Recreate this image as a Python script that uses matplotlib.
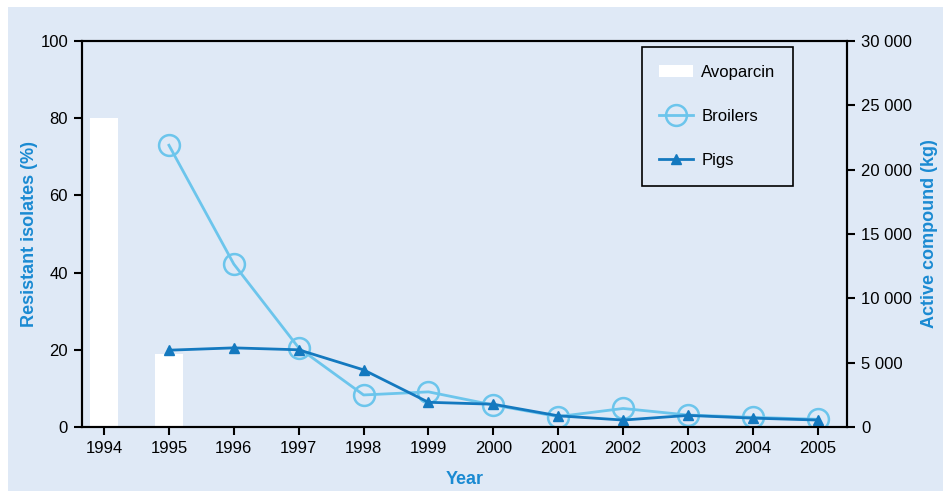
import numpy as np
import matplotlib
matplotlib.use("Agg")
import matplotlib.pyplot as plt
from matplotlib.patches import Rectangle, Patch
from matplotlib.lines import Line2D

plt.rcParams['font.family'] = ['Liberation Sans', 'DejaVu Sans']

# data
years = [1994, 1995, 1996, 1997, 1998, 1999, 2000, 2001, 2002, 2003, 2004, 2005]
avo_years = [1994, 1995]
avoparcin_kg = [24000, 5700]
broiler_years = years[1:]
broilers = [73, 42.2, 20.5, 8.3, 9.1, 5.7, 2.7, 4.8, 3.1, 2.5, 2.0]
pigs = [19.9, 20.5, 20.0, 14.8, 6.4, 5.9, 2.9, 1.8, 3.0, 2.3, 1.8]
left_ticks = [0, 20, 40, 60, 80, 100]
right_ticks = [0, 5000, 10000, 15000, 20000, 25000, 30000]
right_labels = ['0', '5 000', '10 000', '15 000', '20 000', '25 000', '30 000']

bg = '#dfe9f6'
light = '#6cc5ec'
dark = '#1479bf'
labcol = '#1a8ad2'

W, H = 943, 491
fig = plt.figure(figsize=(9.43, 4.91), dpi=100, facecolor='white')
fig.patches.append(Rectangle((8/W, 0), 1, 1 - 7/H, transform=fig.transFigure,
                             facecolor=bg, edgecolor='none', zorder=-10))

ax = fig.add_axes([82/W, 1 - 427/H, (847-82)/W, (427-41)/H])
ax2 = ax.twinx()
ax.set_zorder(ax2.get_zorder() + 1)
ax.patch.set_visible(False)
ax2.patch.set_visible(False)

# bars on the kg axis
ax2.bar(avo_years, avoparcin_kg, width=0.44, color='white', edgecolor='none')
ax2.set_ylim(0, 30000)
ax2.set_yticks(right_ticks)
ax2.set_yticklabels(right_labels)

ax.plot(broiler_years, broilers, color=light, lw=2, marker='o', ms=15,
        mfc='none', mec=light, mew=1.8)
ax.plot(broiler_years, pigs, color=dark, lw=2, marker='^', ms=7,
        mfc=dark, mec=dark)
ax.set_ylim(0, 100)
ax.set_yticks(left_ticks)
ax.set_xlim(1993.66, 2005.45)
ax.set_xticks(years)

for a in (ax, ax2):
    for s in a.spines.values():
        s.set_linewidth(1.5)
        s.set_color('black')
    a.tick_params(width=1.5, length=6, labelsize=12, colors='black', pad=4)

# axis titles placed in figure pixels
fig.text(30/W, 1 - 234/H, 'Resistant isolates (%)', rotation=90, ha='center', va='center',
         fontsize=13, fontweight='bold', color=labcol)
fig.text(930/W, 1 - 234/H, 'Active compound (kg)', rotation=90, ha='center', va='center',
         fontsize=13, fontweight='bold', color=labcol)
fig.text(465/W, 1 - 480/H, 'Year', ha='center', va='center',
         fontsize=13, fontweight='bold', color=labcol)

handles = [Patch(facecolor='white', edgecolor='none'),
           Line2D([], [], color=light, lw=2, marker='o', ms=15, mfc='none', mec=light, mew=1.8),
           Line2D([], [], color=dark, lw=2, marker='^', ms=7, mfc=dark, mec=dark)]
leg = ax.legend(handles, ['Avoparcin', 'Broilers', 'Pigs'], loc='upper left',
                bbox_to_anchor=(0.732, 0.984), fontsize=12, frameon=True, fancybox=False,
                facecolor=bg, edgecolor='black', framealpha=1, labelspacing=1.75,
                handlelength=2.0, borderpad=1.05, handletextpad=0.5, borderaxespad=0)
leg.get_frame().set_linewidth(1.2)

fig.savefig('out.png', dpi=100, facecolor=fig.get_facecolor())
